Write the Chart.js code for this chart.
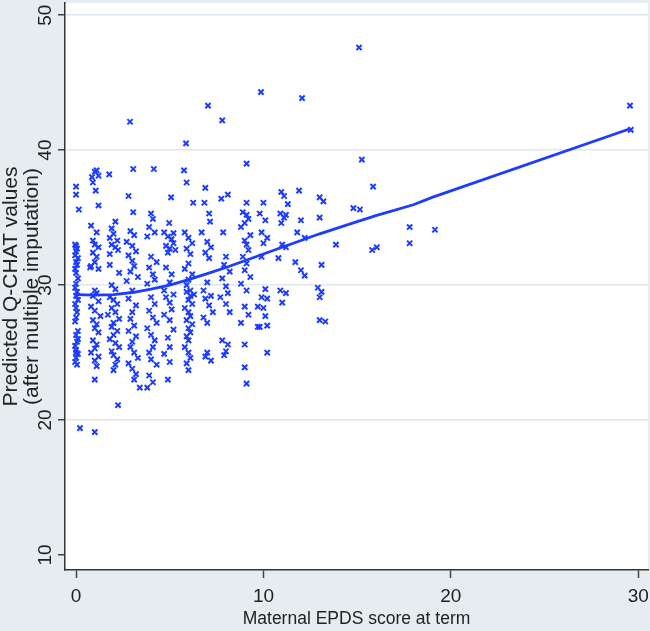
<!DOCTYPE html>
<html>
<head>
<meta charset="utf-8">
<script src="https://cdn.jsdelivr.net/npm/chart.js@4"></script>
<style>
  html, body { margin: 0; padding: 0; background: #e6edf1; }
</style>
</head>
<body>
<canvas id="scatterChart" width="650" height="631"></canvas>
<script>
// Maternal EPDS score (x) for each child, grouped roughly by score column
const epdsScore = [
  // ~0
  0.0,0.0,0.15,-0.05,0.05,0.0,-0.05,0.1,0.0,0.05,-0.05,0.0,0.1,0.0,-0.05,0.05,0.0,0.1,-0.05,0.0,
  0.05,0.0,-0.05,0.1,0.0,0.05,-0.05,0.0,0.1,0.0,-0.05,0.05,0.0,0.1,0.0,0.21,
  // ~1
  0.85,1.0,1.1,1.2,0.9,1.05,1.2,0.8,1.1,0.9,1.0,1.2,0.9,1.1,1.0,0.8,1.2,0.75,1.0,1.1,
  0.9,1.2,0.8,1.0,1.3,0.9,1.1,1.0,1.2,0.9,1.1,1.0,0.8,1.2,1.0,1.1,1.0,1.0,
  // ~2
  1.77,2.1,1.9,2.0,1.8,2.2,1.9,2.1,2.24,1.8,1.8,2.3,1.9,2.1,1.8,2.0,2.2,1.9,2.1,1.7,
  2.3,2.0,1.9,2.2,2.0,1.8,2.1,2.3,1.9,2.0,2.2,2.1,2.0,2.24,
  // ~3
  2.88,3.05,2.8,3.05,2.9,3.1,2.7,3.0,3.2,2.8,3.0,3.1,2.9,3.3,2.7,3.0,2.8,3.2,3.0,2.9,
  3.1,2.8,3.2,3.0,2.9,3.1,3.3,2.8,3.0,3.2,3.1,3.4,
  // ~4
  4.15,4.0,4.1,3.9,4.2,3.8,4.0,4.3,3.9,4.1,4.2,3.8,4.0,4.2,3.9,4.1,4.3,3.8,4.0,4.2,
  4.1,3.9,4.0,4.3,3.9,4.1,3.8,
  // ~5
  5.07,4.97,4.7,5.2,4.9,5.1,5.2,4.8,5.0,5.3,4.9,4.8,5.1,5.0,4.7,5.2,4.8,5.0,5.1,4.7,
  5.0,5.2,4.9,5.0,4.7,5.0,4.9,
  // ~6
  5.87,5.76,5.9,6.25,5.8,6.0,6.2,5.9,6.1,6.0,5.8,6.2,6.0,5.9,6.1,6.3,5.9,6.1,6.0,6.2,
  5.8,6.0,6.1,5.9,6.2,6.0,6.1,5.9,6.0,5.8,6.0,6.1,5.9,6.0,
  // ~7
  7.04,6.9,6.85,7.1,7.15,6.7,7.0,7.2,6.9,7.1,7.0,6.8,7.2,6.9,7.1,7.3,6.8,7.0,7.0,6.9,7.2,
  // ~8
  7.8,7.75,8.1,7.85,8.0,7.9,8.2,7.8,8.0,8.1,7.7,8.0,8.2,7.8,8.1,8.0,7.9,
  // ~9
  9.1,9.1,8.9,9.1,9.2,9.0,8.8,9.3,9.0,9.1,9.2,8.9,9.1,9.0,9.3,8.8,9.1,9.0,9.2,8.8,
  9.0,9.0,9.1,9.7,9.7,
  // ~10
  9.87,10.0,9.8,10.1,9.9,10.2,10.0,9.9,10.1,10.2,9.9,10.0,10.1,9.8,10.2,10.2,
  // ~11
  10.95,11.1,11.3,10.9,11.2,11.1,10.95,11.0,11.2,10.8,10.9,11.2,11.0,
  // ~12
  12.06,11.9,12.0,11.8,12.2,11.7,12.0,12.2,
  // ~13
  13.0,13.2,13.0,13.1,12.9,13.1,13.0,13.0,13.3,
  // tail
  13.87,14.8,15.15,15.25,15.1,15.85,15.8,16.05,17.8,17.8,19.15,29.56,29.6
];

// Predicted Q-CHAT value for each child (same order as epdsScore)
const qchatPred = [
  37.3,36.7,35.6,33.0,32.7,32.5,32.2,32.0,31.7,31.5,31.2,30.9,30.5,30.1,29.8,29.5,29.2,28.9,28.6,28.3,
  28.0,27.6,27.3,26.6,26.3,25.8,25.5,25.2,24.9,24.6,24.3,24.1,25.0,26.0,32.9,19.4,
  38.0,38.4,38.5,38.1,37.6,37.0,35.9,34.4,33.9,33.3,33.0,32.8,32.4,32.1,31.7,31.4,31.2,31.3,29.6,29.4,
  29.2,28.8,28.4,28.1,27.7,27.4,27.1,26.8,26.5,25.9,25.6,25.3,25.0,24.7,24.4,24.0,23.0,19.1,
  38.2,34.7,34.2,33.8,33.5,33.3,33.0,32.8,32.6,32.3,31.5,30.9,30.0,29.7,29.1,28.9,28.6,28.3,28.0,27.8,
  27.5,27.2,26.9,26.6,26.3,26.0,25.7,25.4,25.1,24.8,24.5,24.1,23.7,21.1,
  42.1,38.6,36.6,35.4,34.0,33.7,33.2,32.9,32.5,32.2,31.8,31.4,31.0,30.6,30.3,29.6,29.0,28.5,28.0,27.5,
  27.0,26.6,26.2,25.8,25.4,25.0,24.6,24.2,23.8,23.4,23.0,22.4,
  38.6,35.3,34.9,34.3,33.9,33.6,32.1,31.7,31.3,30.8,30.4,30.1,29.1,28.6,28.1,27.6,27.2,26.8,26.3,25.9,
  25.4,25.0,24.5,24.1,23.3,22.8,22.4,
  36.5,34.6,33.9,33.85,33.6,33.4,33.1,32.9,32.7,32.6,32.4,31.3,30.8,30.2,29.6,29.3,29.1,28.7,28.2,27.8,
  27.4,26.7,26.1,25.4,24.9,24.3,23.0,
  40.5,38.5,37.6,36.1,33.9,33.5,33.1,32.7,32.3,31.6,31.2,30.8,30.4,30.0,29.6,29.3,29.5,29.2,28.9,28.6,
  28.3,28.0,27.7,27.4,27.1,26.8,26.5,26.2,25.9,25.4,25.0,24.6,24.2,23.7,
  43.3,37.2,36.1,35.3,34.7,33.9,33.2,32.8,32.4,32.0,30.2,29.6,29.2,29.0,28.5,28.0,27.6,27.2,25.0,24.7,24.4,
  42.2,36.4,36.7,33.9,32.1,31.5,31.0,30.5,29.9,29.4,29.1,28.6,28.0,25.9,25.6,25.1,24.8,
  39.0,36.1,35.4,35.2,34.9,34.6,34.3,33.7,33.3,33.0,32.6,32.1,31.6,31.1,30.6,30.1,29.6,28.4,27.8,27.2,
  25.6,23.9,22.7,28.4,26.9,
  44.3,36.1,35.3,34.8,33.9,33.5,33.1,32.1,29.7,29.0,29.1,28.3,27.7,26.9,27.0,25.0,
  36.9,36.6,36.0,35.3,35.2,35.0,34.6,33.0,32.8,32.0,29.6,29.4,28.7,
  43.85,37.0,34.8,33.9,33.5,31.7,31.1,30.7,
  36.5,36.2,35.0,31.5,29.8,29.5,29.1,27.4,27.3,
  33.0,35.7,35.6,39.3,47.6,37.3,32.6,32.8,34.3,33.1,34.1,43.3,41.5
];

// smoothed (lowess) fit
const fitX = [0, 1, 2, 3, 4, 5, 6, 7, 8, 9, 10, 11, 12, 13, 15, 16, 18, 19, 29.6];
const fitY = [29.3, 29.25, 29.3, 29.45, 29.7, 30.0, 30.4, 30.85, 31.3, 31.8, 32.3, 32.8, 33.3, 33.8, 34.7, 35.15, 35.95, 36.5, 41.6];

const xTicks = [0, 10, 20, 30];
const yTicks = [10, 20, 30, 40, 50];

const blue = '#1c3cff';
const panelColor = '#e6edf1';
const fontFamily = '"Liberation Sans", Arial, sans-serif';

const n = Math.min(epdsScore.length, qchatPred.length);
const scatterPoints = [];
for (let i = 0; i < n; i++) {
  scatterPoints.push({ x: epdsScore[i], y: qchatPred[i] });
}
const fitPoints = fitX.map((x, i) => ({ x: x, y: fitY[i] }));

// grey page, white plot region
const backgroundPlugin = {
  id: 'background',
  beforeDraw(chart) {
    const { ctx, chartArea } = chart;
    ctx.save();
    ctx.fillStyle = panelColor;
    ctx.fillRect(0, 0, chart.width, chart.height);
    ctx.fillStyle = '#ffffff';
    ctx.fillRect(chartArea.left, chartArea.top, chartArea.right - chartArea.left, chartArea.bottom - chartArea.top);
    ctx.restore();
  }
};

const scatterCfg = {
  type: 'scatter',
  data: {
    datasets: [{
      label: 'Predicted Q-CHAT',
      data: scatterPoints,
      pointStyle: 'crossRot',
      pointRadius: 3.7,
      borderColor: blue,
      backgroundColor: blue,
      pointBorderWidth: 2,
      order: 2
    }, {
      label: 'lowess',
      data: fitPoints,
      showLine: true,
      pointRadius: 0,
      borderColor: blue,
      borderWidth: 2.8,
      tension: 0,
      order: 1
    }]
  },
  options: {
    responsive: false,
    animation: false,
    layout: { autoPadding: false, padding: { top: 3, right: 2, left: 0, bottom: 0 } },
    plugins: {
      legend: { display: false },
      tooltip: { enabled: false }
    },
    scales: {
      x: {
        type: 'linear',
        min: -0.59,
        max: 30.52,
        afterBuildTicks: s => { s.ticks = xTicks.map(v => ({ value: v })); },
        afterFit: s => { s.height = 61; s.paddingLeft = 0; s.paddingRight = 0; },
        border: { color: '#333', width: 1.5 },
        grid: { drawOnChartArea: false, tickLength: 8, tickColor: '#444', tickWidth: 1.5 },
        ticks: {
          color: '#222', padding: 7, maxRotation: 0,
          font: { family: fontFamily, size: 19 }
        },
        title: {
          display: true,
          text: 'Maternal EPDS score at term',
          color: '#222',
          font: { family: fontFamily, size: 17.5 },
          padding: { top: 0, bottom: 1 }
        }
      },
      y: {
        min: 8.89,
        max: 50.9,
        afterBuildTicks: s => { s.ticks = yTicks.map(v => ({ value: v })); },
        afterFit: s => { s.width = 65; s.paddingTop = 0; s.paddingBottom = 0; },
        border: { color: '#333', width: 1.5 },
        grid: {
          color: c => (c.tick && c.tick.value === 10) ? 'rgba(0,0,0,0)' : '#dfe8ed',
          lineWidth: 1.5,
          tickLength: 7,
          tickColor: '#444',
          tickWidth: 1.5
        },
        ticks: {
          color: '#222', padding: 1.5,
          minRotation: 90, maxRotation: 90, crossAlign: 'center',
          font: { family: fontFamily, size: 19 }
        },
        title: {
          display: true,
          text: ['Predicted Q-CHAT values', '(after multiple imputation)'],
          color: '#222',
          font: { family: fontFamily, size: 21, lineHeight: '21px' },
          padding: { top: 0.5, bottom: 0 }
        }
      }
    }
  },
  plugins: [backgroundPlugin]
};

const myScatter = new Chart(document.getElementById('scatterChart'), scatterCfg);
</script>
</body>
</html>
